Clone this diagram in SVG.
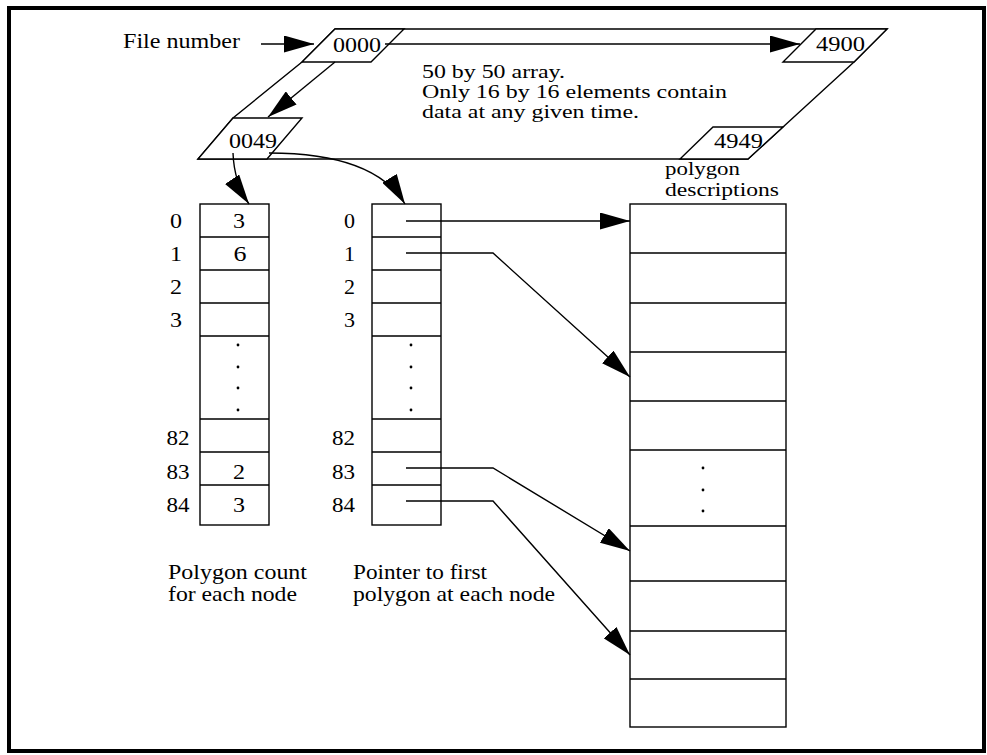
<svg xmlns="http://www.w3.org/2000/svg" width="987" height="755" viewBox="0 0 987 755">
<style>
text { font-family: 'Liberation Serif', 'Times New Roman', serif; font-size: 21px; fill: #000; }
text.m { font-size: 18px; }
.ln { fill: none; stroke: #000; stroke-width: 1.4; }
.bx { fill: #fff; stroke: #000; stroke-width: 1.4; }
.dot { fill: #000; }
</style>
<defs>
<marker id="ah" markerUnits="userSpaceOnUse" markerWidth="30" markerHeight="17" refX="30" refY="8.5" orient="auto" viewBox="0 0 30 17">
<path d="M0,0 L30,8.5 L0,17 z" fill="#000"/>
</marker>
</defs>
<rect x="0" y="0" width="987" height="755" fill="#fff"/>
<rect x="9" y="8" width="975" height="743" fill="none" stroke="#000" stroke-width="4"/>

<g id="file-array">
<polygon class="bx" points="335,29 887,29 854,62 783,127 748,159 198,159 233,118 302,62"/>
<text class="m" x="422" y="78" textLength="143" lengthAdjust="spacingAndGlyphs">50 by 50 array.</text>
<text class="m" x="422" y="98" textLength="305" lengthAdjust="spacingAndGlyphs">Only 16 by 16 elements contain</text>
<text class="m" x="422" y="118" textLength="217" lengthAdjust="spacingAndGlyphs">data at any given time.</text>
</g>
<g id="cell-0000">
<polygon class="bx" points="335,29 404,29 371,62 302,62"/>
<text x="333" y="52" textLength="48" lengthAdjust="spacingAndGlyphs">0000</text>
</g>
<g id="cell-4900">
<polygon class="bx" points="816,29 887,29 854,62 783,62"/>
<text x="816" y="51" textLength="49" lengthAdjust="spacingAndGlyphs">4900</text>
</g>
<g id="cell-0049">
<polygon class="bx" points="233,118 302,118 267,159 198,159"/>
<text x="229" y="148" textLength="48" lengthAdjust="spacingAndGlyphs">0049</text>
</g>
<g id="cell-4949">
<polygon class="bx" points="713,127 783,127 748,159 680,159"/>
<text x="714" y="148" textLength="49" lengthAdjust="spacingAndGlyphs">4949</text>
</g>
<g id="label-file-number">
<text x="123" y="48" textLength="117" lengthAdjust="spacingAndGlyphs">File number</text>
</g>

<g id="count-table">
<rect class="bx" x="200" y="204" width="69" height="321"/>
<path class="ln" d="M200,237 H269 M200,270 H269 M200,303 H269 M200,336 H269 M200,419 H269 M200,452 H269 M200,485 H269"/>
<circle class="dot" cx="238" cy="345" r="1.4"/>
<circle class="dot" cx="238" cy="367" r="1.4"/>
<circle class="dot" cx="238" cy="388" r="1.4"/>
<circle class="dot" cx="238" cy="410" r="1.4"/>
<g text-anchor="middle">
<text x="176" y="228" textLength="12" lengthAdjust="spacingAndGlyphs">0</text>
<text x="176" y="261" textLength="12" lengthAdjust="spacingAndGlyphs">1</text>
<text x="176" y="294" textLength="12" lengthAdjust="spacingAndGlyphs">2</text>
<text x="176" y="327" textLength="12" lengthAdjust="spacingAndGlyphs">3</text>
<text x="178" y="445" textLength="23" lengthAdjust="spacingAndGlyphs">82</text>
<text x="178" y="479" textLength="23" lengthAdjust="spacingAndGlyphs">83</text>
<text x="178" y="512" textLength="23" lengthAdjust="spacingAndGlyphs">84</text>
<text x="239" y="228" textLength="12" lengthAdjust="spacingAndGlyphs">3</text>
<text x="240" y="261" textLength="13" lengthAdjust="spacingAndGlyphs">6</text>
<text x="239" y="479" textLength="12" lengthAdjust="spacingAndGlyphs">2</text>
<text x="239" y="512" textLength="12" lengthAdjust="spacingAndGlyphs">3</text>
</g>
<text x="168" y="579" textLength="139" lengthAdjust="spacingAndGlyphs">Polygon count</text>
<text x="168" y="601" textLength="129" lengthAdjust="spacingAndGlyphs">for each node</text>
</g>

<g id="pointer-table">
<rect class="bx" x="372" y="204" width="69" height="321"/>
<path class="ln" d="M372,237 H441 M372,270 H441 M372,303 H441 M372,336 H441 M372,419 H441 M372,452 H441 M372,485 H441"/>
<circle class="dot" cx="411" cy="345" r="1.4"/>
<circle class="dot" cx="411" cy="367" r="1.4"/>
<circle class="dot" cx="411" cy="388" r="1.4"/>
<circle class="dot" cx="411" cy="410" r="1.4"/>
<g text-anchor="end">
<text x="355" y="228" textLength="11" lengthAdjust="spacingAndGlyphs">0</text>
<text x="355" y="261" textLength="11" lengthAdjust="spacingAndGlyphs">1</text>
<text x="355" y="294" textLength="11" lengthAdjust="spacingAndGlyphs">2</text>
<text x="355" y="327" textLength="11" lengthAdjust="spacingAndGlyphs">3</text>
<text x="355" y="445" textLength="23" lengthAdjust="spacingAndGlyphs">82</text>
<text x="355" y="479" textLength="23" lengthAdjust="spacingAndGlyphs">83</text>
<text x="355" y="512" textLength="23" lengthAdjust="spacingAndGlyphs">84</text>
</g>
<text x="353" y="579" textLength="134" lengthAdjust="spacingAndGlyphs">Pointer to first</text>
<text x="353" y="601" textLength="202" lengthAdjust="spacingAndGlyphs">polygon at each node</text>
</g>

<g id="polygon-descriptions">
<rect class="bx" x="630" y="204" width="156" height="523"/>
<path class="ln" d="M630,253 H786 M630,303 H786 M630,352 H786 M630,401 H786 M630,450 H786 M630,526 H786 M630,581 H786 M630,631 H786 M630,679 H786"/>
<circle class="dot" cx="703" cy="468" r="1.4"/>
<circle class="dot" cx="703" cy="490" r="1.4"/>
<circle class="dot" cx="703" cy="511" r="1.4"/>
<text class="m" x="665" y="175" textLength="75" lengthAdjust="spacingAndGlyphs">polygon</text>
<text class="m" x="665" y="196" textLength="114" lengthAdjust="spacingAndGlyphs">descriptions</text>
</g>

<g id="connectors">
<path class="ln" d="M261,44 H314" marker-end="url(#ah)"/>
<path class="ln" d="M385,44 H800" marker-end="url(#ah)"/>
<path class="ln" d="M335,62 L268,117" marker-end="url(#ah)"/>
<path class="ln" d="M233,153 Q234,182 249,204" marker-end="url(#ah)"/>
<path class="ln" d="M269,153 C330,153 382,166 405,204" marker-end="url(#ah)"/>
<path class="ln" d="M406,221 H630" marker-end="url(#ah)"/>
<path class="ln" d="M406,253 H493 L630,377" marker-end="url(#ah)"/>
<path class="ln" d="M406,468 H493 L630,551" marker-end="url(#ah)"/>
<path class="ln" d="M406,501 H493 L630,655" marker-end="url(#ah)"/>
</g>
</svg>
